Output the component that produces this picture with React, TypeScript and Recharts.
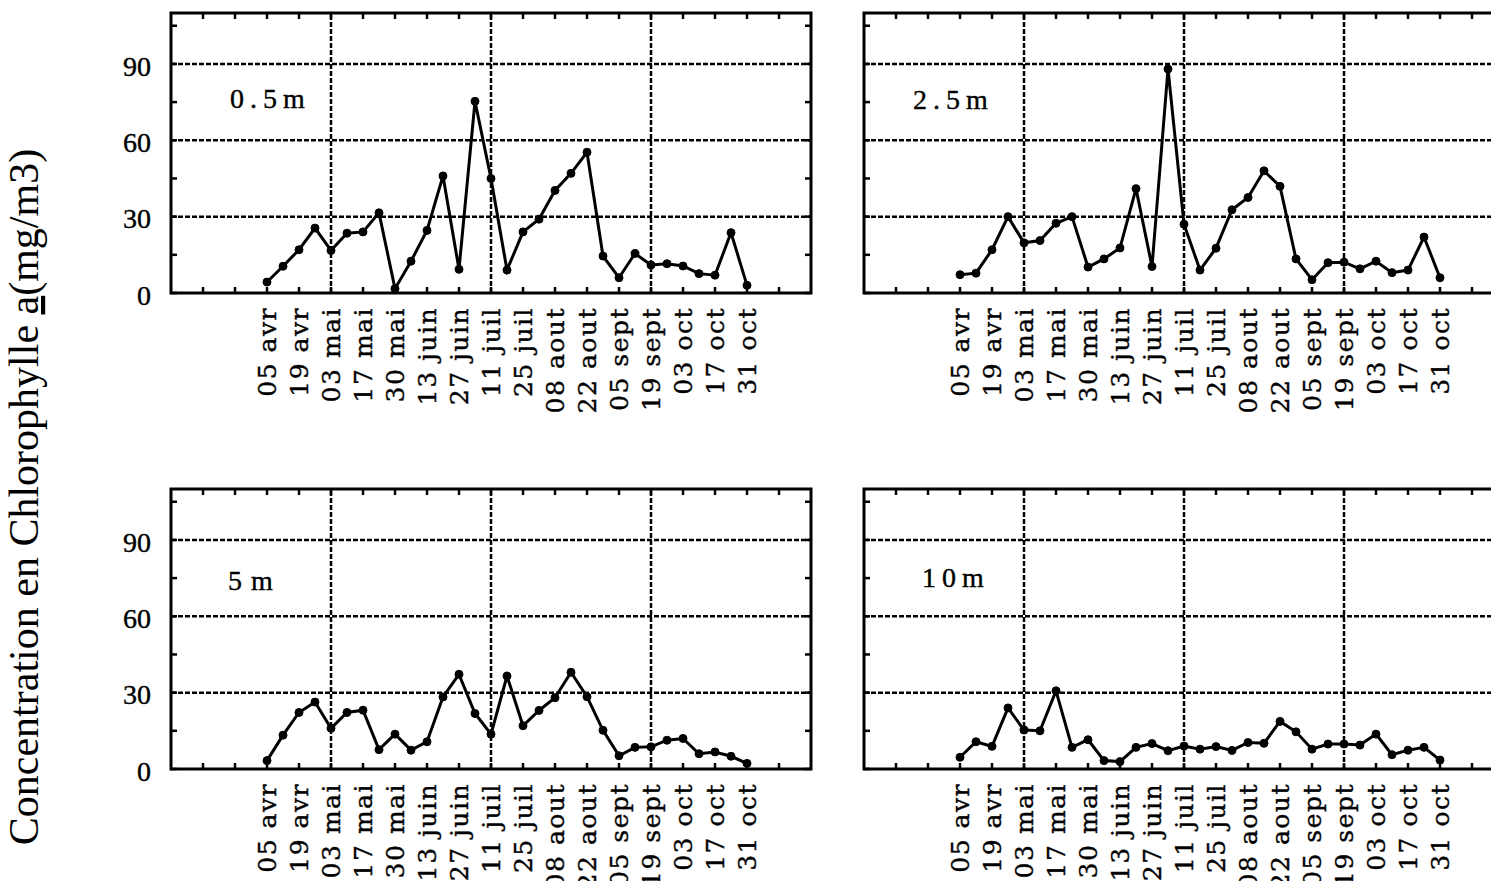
import { LineChart, Line, XAxis, YAxis, ReferenceLine, ReferenceArea } from "recharts";

// dates de prélèvement (une par semaine), étiquettes toutes les 2 semaines
const dateLabels = [
  "05 avr", "19 avr", "03 mai", "17 mai", "30 mai", "13 juin", "27 juin", "11 juil",
  "25 juil", "08 aout", "22 aout", "05 sept", "19 sept", "03 oct", "17 oct", "31 oct",
];
const sampleWeeks = [
  0, 1, 2, 3, 4, 5, 6, 7, 8, 9, 10, 11, 12, 13, 14, 15,
  16, 17, 18, 19, 20, 21, 22, 23, 24, 25, 26, 27, 28, 29, 30,
];

const chl05 = [4.3, 10.5, 17, 25.5, 16.7, 23.5, 24, 31.5, 1.7, 12.5, 24.6, 46, 9.3, 75.3, 45, 9, 24, 29, 40.3, 47, 55.3, 14.5, 6, 15.5, 11, 11.5, 10.6, 7.6, 7, 23.7, 3];
const chl25 = [7.2, 7.8, 17, 30, 19.7, 20.6, 27.4, 30, 10.2, 13.4, 17.7, 41, 10.4, 88, 27, 9, 17.6, 32.7, 37.5, 48, 41.9, 13.4, 5.2, 11.9, 12.1, 9.5, 12.5, 8, 9, 22, 6];
const chl5 = [3.3, 13.3, 22.2, 26.3, 16, 22.2, 23.1, 7.6, 13.7, 7.4, 10.7, 28.3, 37.2, 21.8, 13.7, 36.5, 17, 23, 28, 38, 28.4, 15.2, 5.2, 8.5, 8.7, 11.3, 12, 6, 6.7, 5, 2.2];
const chl10 = [4.6, 10.7, 8.9, 24, 15.3, 15, 30.7, 8.5, 11.5, 3.3, 2.9, 8.5, 10, 7.2, 9, 7.8, 8.8, 7.3, 10.4, 10.1, 18.7, 14.6, 7.8, 9.8, 9.8, 9.4, 13.7, 5.6, 7.4, 8.5, 3.5];

const xTicks = [-4, -2, 0, 2, 4, 6, 8, 10, 12, 14, 16, 18, 20, 22, 24, 26, 28, 30, 32];
const yTicks = [0, 15, 30, 45, 60, 75, 90, 105];
const yLabelTicks = [0, 30, 60, 90];
const gridX = [4, 14, 24];
const gridY = [30, 60, 90];

const PW = 640; // largeur zone de tracé
const PH = 280; // hauteur zone de tracé
const YW = 171;
const MT = 13;

const panels = [
  { name: "0.5m", values: chl05, left: 0, top: 0, yLabels: true, lx: 230, ly: 108, ls: 6 },
  { name: "2.5m", values: chl25, left: 693, top: 0, yLabels: false, lx: 913, ly: 109, ls: 6 },
  { name: "5m", values: chl5, left: 0, top: 476, yLabels: true, lx: 228, ly: 590, ls: 9 },
  { name: "10m", values: chl10, left: 693, top: 476, yLabels: false, lx: 922, ly: 587, ls: 6 },
];

function XTick(props: any) {
  const { x, y, payload } = props;
  const w = payload.value;
  const txt = w >= 0 && w <= 30 ? dateLabels[w / 2] : null;
  return (
    <g>
      <line x1={x} x2={x} y1={y} y2={y - 6} stroke="#000" strokeWidth={2.5} />
      <line x1={x} x2={x} y1={y - PH} y2={y - PH + 6} stroke="#000" strokeWidth={2.5} />
      {txt && (
        <g transform={`translate(${x},${y + 14}) rotate(-90)`}>
          <text x={0} y={0} dy="0.36em" textAnchor="end" fontFamily="DejaVu Serif" fontSize={25} letterSpacing={1.5} fill="#000" stroke="#000" strokeWidth={0.4}>
            {txt}
          </text>
        </g>
      )}
    </g>
  );
}

function YTick(props: any, showLabels: boolean) {
  const { x, y, payload } = props;
  const v = payload.value;
  return (
    <g>
      <line x1={x} x2={x + 6} y1={y} y2={y} stroke="#000" strokeWidth={2.5} />
      <line x1={x + PW} x2={x + PW - 6} y1={y} y2={y} stroke="#000" strokeWidth={2.5} />
      {showLabels && yLabelTicks.includes(v) && (
        <text x={x - 20} y={y} dy="0.42em" textAnchor="end" fontFamily="Liberation Serif" fontSize={28} fill="#000" stroke="#000" strokeWidth={0.4}>
          {v}
        </text>
      )}
    </g>
  );
}

function Panel({ values, left, top, yLabels }: { values: number[]; left: number; top: number; yLabels: boolean }) {
  const data = sampleWeeks.map((w, i) => ({ w, v: values[i] }));
  return (
    <div style={{ position: "absolute", left, top }}>
      <LineChart width={YW + PW + 6} height={MT + PH + 150} data={data} margin={{ top: MT, right: 6, left: 0, bottom: 0 }}>
        <XAxis
          dataKey="w"
          type="number"
          domain={[-6, 34]}
          ticks={xTicks}
          interval={0}
          height={150}
          axisLine={false}
          tickLine={false}
          tickSize={0}
          tickMargin={0}
          tick={(p: any) => <XTick {...p} />}
        />
        <YAxis
          type="number"
          domain={[0, 110]}
          ticks={yTicks}
          interval={0}
          width={YW}
          axisLine={false}
          tickLine={false}
          tickSize={0}
          tickMargin={0}
          tick={(p: any) => YTick(p, yLabels)}
        />
        {gridY.map(g => (
          <ReferenceLine key={"y" + g} y={g} stroke="#000" strokeWidth={2.5} strokeDasharray="5 2" />
        ))}
        {gridX.map(g => (
          <ReferenceLine key={"x" + g} x={g} stroke="#000" strokeWidth={2.5} strokeDasharray="5 2" />
        ))}
        <ReferenceArea x1={-6} x2={34} y1={0} y2={110} fill="none" stroke="#000" strokeWidth={3} />
        <Line
          type="linear"
          dataKey="v"
          stroke="#000"
          strokeWidth={3}
          dot={{ r: 4, fill: "#000", stroke: "#000", strokeWidth: 1 }}
          isAnimationActive={false}
        />
      </LineChart>
    </div>
  );
}

export default function App() {
  return (
    <div style={{ position: "absolute", left: 0, top: 0, width: 1491, height: 881, overflow: "hidden", background: "#fff" }}>
      {panels.map(p => (
        <Panel key={p.name} values={p.values} left={p.left} top={p.top} yLabels={p.yLabels} />
      ))}
      <svg width={1491} height={881} style={{ position: "absolute", left: 0, top: 0, pointerEvents: "none" }}>
        <g transform="translate(38,497) rotate(-90)">
          <text x={0} y={0} textAnchor="middle" fontFamily="Liberation Serif" fontSize={42} fill="#000">
            Concentration en Chlorophylle <tspan textDecoration="underline">a</tspan>(mg/m3)
          </text>
        </g>
        {panels.map(p => (
          <text key={p.name} x={p.lx} y={p.ly} fontFamily="Liberation Serif" fontSize={28} letterSpacing={p.ls} fill="#000" stroke="#000" strokeWidth={0.4}>
            {p.name}
          </text>
        ))}
      </svg>
    </div>
  );
}
